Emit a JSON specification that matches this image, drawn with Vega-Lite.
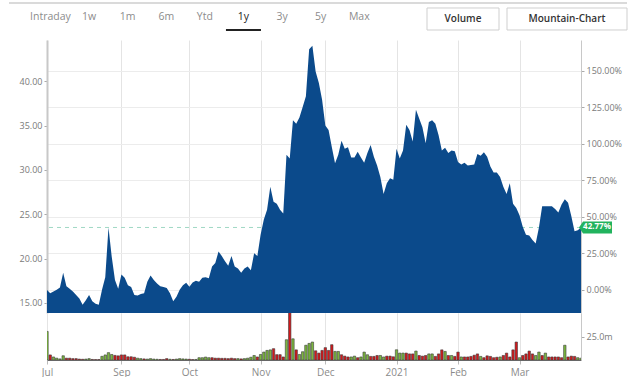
{
  "$schema": "https://vega.github.io/schema/vega-lite/v6.json",
  "padding": {"left": 7, "top": 0, "right": 0, "bottom": 0},
  "spacing": 0,
  "background": "white",
  "config": {
    "view": {"stroke": null},
    "font": "Open Sans",
    "axis": {"labelFont": "Open Sans", "labelColor": "#7a7a7a", "labelFontSize": 9, "tickColor": "#aaaaaa", "tickSize": 3, "labelPadding": 2, "domainColor": "#c8c8c8", "gridColor": "#ececec"}
  },
  "datasets": {
    "tabs": [
      {"label": "Intraday", "kind": "tab"},
      {"label": "1w", "kind": "tab"},
      {"label": "1m", "kind": "tab"},
      {"label": "6m", "kind": "tab"},
      {"label": "Ytd", "kind": "tab"},
      {"label": "1y", "kind": "active"},
      {"label": "3y", "kind": "tab"},
      {"label": "5y", "kind": "tab"},
      {"label": "Max", "kind": "tab"},
      {"label": "Volume", "kind": "button"},
      {"label": "Mountain-Chart", "kind": "button"}
    ],
    "last": [{"pct": 0.4277, "label": "42.77%"}],
    "prices": [
      {"date": "2020-07-30", "close": 16.47, "volume": 31, "dir": "up"},
      {"date": "2020-07-31", "close": 16.10, "volume": 5.5, "dir": "down"},
      {"date": "2020-08-03", "close": 16.30, "volume": 3.3, "dir": "up"},
      {"date": "2020-08-04", "close": 16.50, "volume": 2.0, "dir": "up"},
      {"date": "2020-08-05", "close": 16.75, "volume": 1.2, "dir": "up"},
      {"date": "2020-08-06", "close": 18.40, "volume": 4.6, "dir": "up"},
      {"date": "2020-08-07", "close": 16.90, "volume": 2.0, "dir": "down"},
      {"date": "2020-08-10", "close": 16.60, "volume": 2.0, "dir": "down"},
      {"date": "2020-08-11", "close": 16.30, "volume": 1.5, "dir": "down"},
      {"date": "2020-08-12", "close": 15.90, "volume": 1.5, "dir": "down"},
      {"date": "2020-08-13", "close": 15.50, "volume": 1.0, "dir": "down"},
      {"date": "2020-08-14", "close": 14.80, "volume": 0.8, "dir": "down"},
      {"date": "2020-08-17", "close": 15.30, "volume": 1.0, "dir": "up"},
      {"date": "2020-08-18", "close": 15.90, "volume": 1.5, "dir": "up"},
      {"date": "2020-08-19", "close": 15.20, "volume": 0.6, "dir": "down"},
      {"date": "2020-08-20", "close": 14.90, "volume": 0.5, "dir": "down"},
      {"date": "2020-08-21", "close": 14.80, "volume": 0.5, "dir": "down"},
      {"date": "2020-08-24", "close": 16.50, "volume": 4.0, "dir": "up"},
      {"date": "2020-08-25", "close": 17.90, "volume": 5.5, "dir": "up"},
      {"date": "2020-08-26", "close": 23.50, "volume": 8.0, "dir": "up"},
      {"date": "2020-08-27", "close": 20.20, "volume": 6.0, "dir": "up"},
      {"date": "2020-08-28", "close": 17.60, "volume": 5.0, "dir": "down"},
      {"date": "2020-08-31", "close": 16.60, "volume": 4.5, "dir": "down"},
      {"date": "2020-09-01", "close": 18.20, "volume": 5.5, "dir": "down"},
      {"date": "2020-09-02", "close": 17.85, "volume": 5.5, "dir": "down"},
      {"date": "2020-09-03", "close": 17.00, "volume": 3.5, "dir": "down"},
      {"date": "2020-09-04", "close": 16.80, "volume": 3.5, "dir": "down"},
      {"date": "2020-09-08", "close": 15.90, "volume": 3.0, "dir": "down"},
      {"date": "2020-09-09", "close": 15.85, "volume": 2.0, "dir": "up"},
      {"date": "2020-09-10", "close": 16.00, "volume": 1.5, "dir": "up"},
      {"date": "2020-09-11", "close": 16.10, "volume": 1.2, "dir": "down"},
      {"date": "2020-09-14", "close": 17.40, "volume": 1.0, "dir": "up"},
      {"date": "2020-09-15", "close": 18.10, "volume": 1.5, "dir": "up"},
      {"date": "2020-09-16", "close": 17.60, "volume": 1.0, "dir": "up"},
      {"date": "2020-09-17", "close": 17.20, "volume": 0.8, "dir": "up"},
      {"date": "2020-09-18", "close": 16.90, "volume": 0.6, "dir": "down"},
      {"date": "2020-09-21", "close": 16.80, "volume": 0.6, "dir": "down"},
      {"date": "2020-09-22", "close": 16.70, "volume": 1.5, "dir": "down"},
      {"date": "2020-09-23", "close": 16.10, "volume": 0.8, "dir": "up"},
      {"date": "2020-09-24", "close": 15.20, "volume": 0.6, "dir": "down"},
      {"date": "2020-09-25", "close": 15.70, "volume": 1.0, "dir": "up"},
      {"date": "2020-09-28", "close": 16.50, "volume": 1.5, "dir": "up"},
      {"date": "2020-09-29", "close": 17.00, "volume": 1.2, "dir": "up"},
      {"date": "2020-09-30", "close": 17.29, "volume": 1.0, "dir": "up"},
      {"date": "2020-10-01", "close": 16.84, "volume": 0.8, "dir": "down"},
      {"date": "2020-10-02", "close": 17.30, "volume": 0.5, "dir": "down"},
      {"date": "2020-10-05", "close": 17.50, "volume": 0.6, "dir": "up"},
      {"date": "2020-10-06", "close": 17.40, "volume": 2.5, "dir": "up"},
      {"date": "2020-10-07", "close": 17.85, "volume": 2.5, "dir": "up"},
      {"date": "2020-10-08", "close": 17.90, "volume": 3.2, "dir": "up"},
      {"date": "2020-10-09", "close": 17.80, "volume": 2.5, "dir": "up"},
      {"date": "2020-10-12", "close": 19.10, "volume": 2.5, "dir": "down"},
      {"date": "2020-10-13", "close": 19.50, "volume": 2.0, "dir": "down"},
      {"date": "2020-10-14", "close": 20.80, "volume": 2.0, "dir": "down"},
      {"date": "2020-10-15", "close": 20.30, "volume": 1.8, "dir": "down"},
      {"date": "2020-10-16", "close": 19.70, "volume": 1.8, "dir": "down"},
      {"date": "2020-10-19", "close": 19.20, "volume": 1.5, "dir": "down"},
      {"date": "2020-10-20", "close": 20.30, "volume": 2.0, "dir": "down"},
      {"date": "2020-10-21", "close": 19.10, "volume": 1.5, "dir": "down"},
      {"date": "2020-10-22", "close": 18.90, "volume": 1.5, "dir": "up"},
      {"date": "2020-10-23", "close": 18.40, "volume": 1.2, "dir": "down"},
      {"date": "2020-10-26", "close": 18.90, "volume": 1.5, "dir": "up"},
      {"date": "2020-10-27", "close": 19.10, "volume": 2.0, "dir": "up"},
      {"date": "2020-10-28", "close": 18.70, "volume": 3.0, "dir": "up"},
      {"date": "2020-10-29", "close": 20.60, "volume": 4.9, "dir": "up"},
      {"date": "2020-10-30", "close": 20.30, "volume": 3.3, "dir": "down"},
      {"date": "2020-11-02", "close": 22.70, "volume": 6.0, "dir": "up"},
      {"date": "2020-11-03", "close": 24.40, "volume": 8.6, "dir": "up"},
      {"date": "2020-11-04", "close": 25.50, "volume": 10.4, "dir": "up"},
      {"date": "2020-11-05", "close": 28.10, "volume": 11.0, "dir": "up"},
      {"date": "2020-11-06", "close": 26.40, "volume": 12.3, "dir": "down"},
      {"date": "2020-11-09", "close": 26.20, "volume": 5.8, "dir": "down"},
      {"date": "2020-11-10", "close": 25.50, "volume": 5.8, "dir": "down"},
      {"date": "2020-11-11", "close": 25.10, "volume": 3.3, "dir": "down"},
      {"date": "2020-11-12", "close": 31.70, "volume": 22, "dir": "up"},
      {"date": "2020-11-13", "close": 31.30, "volume": 55, "dir": "down"},
      {"date": "2020-11-16", "close": 35.60, "volume": 23, "dir": "up"},
      {"date": "2020-11-17", "close": 35.20, "volume": 11, "dir": "down"},
      {"date": "2020-11-18", "close": 35.90, "volume": 6, "dir": "up"},
      {"date": "2020-11-19", "close": 37.10, "volume": 9, "dir": "up"},
      {"date": "2020-11-20", "close": 38.30, "volume": 16, "dir": "up"},
      {"date": "2020-11-23", "close": 43.60, "volume": 18, "dir": "up"},
      {"date": "2020-11-24", "close": 44.00, "volume": 19.5, "dir": "up"},
      {"date": "2020-11-25", "close": 41.10, "volume": 10, "dir": "down"},
      {"date": "2020-11-27", "close": 39.80, "volume": 7.5, "dir": "down"},
      {"date": "2020-11-30", "close": 37.90, "volume": 10.4, "dir": "down"},
      {"date": "2020-12-01", "close": 35.00, "volume": 13.4, "dir": "down"},
      {"date": "2020-12-02", "close": 34.50, "volume": 10.4, "dir": "down"},
      {"date": "2020-12-03", "close": 32.60, "volume": 16.6, "dir": "down"},
      {"date": "2020-12-04", "close": 30.75, "volume": 9.3, "dir": "up"},
      {"date": "2020-12-07", "close": 31.70, "volume": 9.3, "dir": "up"},
      {"date": "2020-12-08", "close": 33.30, "volume": 5.7, "dir": "down"},
      {"date": "2020-12-09", "close": 32.40, "volume": 4.2, "dir": "down"},
      {"date": "2020-12-10", "close": 32.55, "volume": 3.3, "dir": "down"},
      {"date": "2020-12-11", "close": 31.40, "volume": 3.3, "dir": "up"},
      {"date": "2020-12-14", "close": 31.40, "volume": 4.2, "dir": "up"},
      {"date": "2020-12-15", "close": 32.06, "volume": 2.5, "dir": "down"},
      {"date": "2020-12-16", "close": 31.40, "volume": 3.3, "dir": "up"},
      {"date": "2020-12-17", "close": 30.80, "volume": 8.6, "dir": "up"},
      {"date": "2020-12-18", "close": 31.90, "volume": 5.7, "dir": "up"},
      {"date": "2020-12-21", "close": 32.80, "volume": 3.9, "dir": "down"},
      {"date": "2020-12-22", "close": 31.50, "volume": 3.9, "dir": "down"},
      {"date": "2020-12-23", "close": 30.50, "volume": 4.9, "dir": "down"},
      {"date": "2020-12-24", "close": 29.20, "volume": 4.9, "dir": "up"},
      {"date": "2020-12-28", "close": 27.30, "volume": 3.3, "dir": "up"},
      {"date": "2020-12-29", "close": 28.50, "volume": 4.2, "dir": "down"},
      {"date": "2020-12-30", "close": 29.06, "volume": 4.2, "dir": "down"},
      {"date": "2020-12-31", "close": 28.90, "volume": 3.5, "dir": "down"},
      {"date": "2021-01-04", "close": 32.40, "volume": 11.1, "dir": "up"},
      {"date": "2021-01-05", "close": 31.30, "volume": 7.5, "dir": "up"},
      {"date": "2021-01-06", "close": 32.20, "volume": 7.5, "dir": "up"},
      {"date": "2021-01-07", "close": 35.10, "volume": 7.5, "dir": "down"},
      {"date": "2021-01-08", "close": 34.50, "volume": 6.6, "dir": "down"},
      {"date": "2021-01-11", "close": 33.20, "volume": 6.6, "dir": "down"},
      {"date": "2021-01-12", "close": 36.80, "volume": 9.7, "dir": "up"},
      {"date": "2021-01-13", "close": 35.80, "volume": 4.9, "dir": "down"},
      {"date": "2021-01-14", "close": 34.80, "volume": 4.2, "dir": "down"},
      {"date": "2021-01-15", "close": 33.00, "volume": 4.9, "dir": "down"},
      {"date": "2021-01-19", "close": 35.40, "volume": 6.6, "dir": "up"},
      {"date": "2021-01-20", "close": 35.60, "volume": 6.6, "dir": "up"},
      {"date": "2021-01-21", "close": 35.20, "volume": 3.9, "dir": "down"},
      {"date": "2021-01-22", "close": 33.90, "volume": 6.6, "dir": "down"},
      {"date": "2021-01-25", "close": 32.20, "volume": 11, "dir": "down"},
      {"date": "2021-01-26", "close": 32.50, "volume": 9.3, "dir": "up"},
      {"date": "2021-01-27", "close": 31.90, "volume": 4.9, "dir": "down"},
      {"date": "2021-01-28", "close": 32.20, "volume": 4.9, "dir": "up"},
      {"date": "2021-01-29", "close": 32.10, "volume": 3.9, "dir": "down"},
      {"date": "2021-02-01", "close": 30.90, "volume": 8.6, "dir": "down"},
      {"date": "2021-02-02", "close": 30.60, "volume": 3.3, "dir": "up"},
      {"date": "2021-02-03", "close": 30.80, "volume": 3.3, "dir": "down"},
      {"date": "2021-02-04", "close": 30.50, "volume": 3.3, "dir": "down"},
      {"date": "2021-02-05", "close": 30.55, "volume": 3.9, "dir": "down"},
      {"date": "2021-02-08", "close": 30.60, "volume": 5.2, "dir": "down"},
      {"date": "2021-02-09", "close": 31.80, "volume": 6.6, "dir": "down"},
      {"date": "2021-02-10", "close": 31.60, "volume": 3.9, "dir": "up"},
      {"date": "2021-02-11", "close": 32.00, "volume": 2.5, "dir": "down"},
      {"date": "2021-02-12", "close": 31.50, "volume": 4.5, "dir": "down"},
      {"date": "2021-02-16", "close": 30.40, "volume": 3.9, "dir": "down"},
      {"date": "2021-02-17", "close": 29.70, "volume": 2.5, "dir": "down"},
      {"date": "2021-02-18", "close": 29.70, "volume": 3.0, "dir": "down"},
      {"date": "2021-02-19", "close": 29.20, "volume": 3.3, "dir": "up"},
      {"date": "2021-02-22", "close": 28.10, "volume": 4.9, "dir": "down"},
      {"date": "2021-02-23", "close": 27.30, "volume": 7.5, "dir": "down"},
      {"date": "2021-02-24", "close": 28.50, "volume": 3.3, "dir": "down"},
      {"date": "2021-02-25", "close": 26.20, "volume": 11, "dir": "down"},
      {"date": "2021-02-26", "close": 25.70, "volume": 19.5, "dir": "down"},
      {"date": "2021-03-01", "close": 24.90, "volume": 2.5, "dir": "up"},
      {"date": "2021-03-02", "close": 23.60, "volume": 4.9, "dir": "down"},
      {"date": "2021-03-03", "close": 22.70, "volume": 6.6, "dir": "down"},
      {"date": "2021-03-04", "close": 22.60, "volume": 9.7, "dir": "down"},
      {"date": "2021-03-05", "close": 22.10, "volume": 6.6, "dir": "down"},
      {"date": "2021-03-08", "close": 21.70, "volume": 4.9, "dir": "up"},
      {"date": "2021-03-09", "close": 23.50, "volume": 8.6, "dir": "up"},
      {"date": "2021-03-10", "close": 25.90, "volume": 4.9, "dir": "down"},
      {"date": "2021-03-11", "close": 25.90, "volume": 7.5, "dir": "up"},
      {"date": "2021-03-12", "close": 25.90, "volume": 3.3, "dir": "down"},
      {"date": "2021-03-15", "close": 25.90, "volume": 3.3, "dir": "down"},
      {"date": "2021-03-16", "close": 25.60, "volume": 3.3, "dir": "down"},
      {"date": "2021-03-17", "close": 25.20, "volume": 3.3, "dir": "down"},
      {"date": "2021-03-18", "close": 26.10, "volume": 2.5, "dir": "down"},
      {"date": "2021-03-19", "close": 26.70, "volume": 16, "dir": "up"},
      {"date": "2021-03-22", "close": 26.30, "volume": 3.3, "dir": "down"},
      {"date": "2021-03-23", "close": 24.80, "volume": 4.2, "dir": "down"},
      {"date": "2021-03-24", "close": 23.10, "volume": 3.9, "dir": "down"},
      {"date": "2021-03-25", "close": 23.20, "volume": 2.5, "dir": "up"},
      {"date": "2021-03-26", "close": 23.51, "volume": 2.0, "dir": "up"}
    ]
  },
  "vconcat": [
    {
      "width": 534,
      "height": 40,
      "data": {"name": "tabs"},
      "layer": [
        {
          "data": {"values": [{}]},
          "mark": {"type": "point", "shape": "M-1,0H1", "size": 381924, "filled": false, "stroke": "#b5b5b5", "strokeWidth": 1, "opacity": 1, "xOffset": 4, "yOffset": -17},
          "encoding": {}
        },
        {
          "transform": [{"filter": "datum.label == 'Volume'"}],
          "mark": {"type": "point", "shape": "M-1,-0.3056H1V0.3056H-1Z", "size": 5184, "filled": false, "stroke": "#cfcfcf", "strokeWidth": 1, "opacity": 1, "yOffset": -1},
          "encoding": {"x": {"field": "label", "type": "nominal", "scale": {"type": "point", "padding": 0, "domain": ["Volume", "Mountain-Chart"], "range": [416, 520]}, "axis": null}}
        },
        {
          "transform": [{"filter": "datum.label == 'Mountain-Chart'"}],
          "mark": {"type": "point", "shape": "M-1,-0.1833H1V0.1833H-1Z", "size": 14400, "filled": false, "stroke": "#cfcfcf", "strokeWidth": 1, "opacity": 1, "yOffset": -1},
          "encoding": {"x": {"field": "label", "type": "nominal", "scale": {"type": "point", "padding": 0, "domain": ["Volume", "Mountain-Chart"], "range": [416, 520]}, "axis": null}}
        },
        {
          "transform": [{"filter": "datum.kind == 'button'"}],
          "mark": {"type": "text", "fontSize": 10, "fontWeight": 600, "color": "#333333", "dy": -1},
          "encoding": {
            "x": {"field": "label", "type": "nominal", "scale": {"type": "point", "padding": 0, "domain": ["Volume", "Mountain-Chart"], "range": [416, 520]}, "axis": null},
            "text": {"field": "label"}
          }
        },
        {
          "transform": [{"filter": "datum.kind != 'button'"}],
          "mark": {"type": "text", "fontSize": 10.5, "dy": -3},
          "encoding": {
            "x": {"field": "label", "type": "nominal", "scale": {"type": "point", "padding": 0, "domain": ["Intraday", "1w", "1m", "6m", "Ytd", "1y", "3y", "5y", "Max"], "range": [3.4, 312.3]}, "axis": null},
            "text": {"field": "label"},
            "color": {"field": "kind", "type": "nominal", "scale": {"domain": ["tab", "active"], "range": ["#8c8c8c", "#222222"]}, "legend": null}
          }
        },
        {
          "transform": [{"filter": "datum.label == '1y'"}],
          "mark": {"type": "point", "shape": "M-1,0H1", "size": 1225, "filled": false, "stroke": "#222222", "strokeWidth": 2, "opacity": 1, "yOffset": 10},
          "encoding": {"x": {"field": "label", "type": "nominal", "scale": {"type": "point", "padding": 0, "domain": ["Intraday", "1w", "1m", "6m", "Ytd", "1y", "3y", "5y", "Max"], "range": [3.4, 312.3]}, "axis": null}}
        }
      ],
      "resolve": {"scale": {"x": "independent", "color": "independent"}}
    },
    {
      "width": 534,
      "height": 273,
      "data": {"name": "prices"},
      "layer": [
        {
          "data": {"name": "last"},
          "mark": {"type": "rule", "strokeDash": [4, 4], "color": "#9fd8c4", "strokeWidth": 1},
          "encoding": {
            "y": {"field": "pct", "type": "quantitative", "scale": {"domain": [-0.1579, 1.711], "nice": false, "zero": false}, "axis": {"orient": "right", "values": [0, 0.25, 0.5, 0.75, 1, 1.25, 1.5], "format": ".2%", "grid": true, "title": null}}
          }
        },
        {
          "mark": {"type": "area", "color": "#0b4a8b", "opacity": 1, "clip": true},
          "encoding": {
            "x": {"field": "date", "type": "ordinal", "scale": {"type": "point", "padding": 0}, "axis": {"values": ["2020-07-30", "2020-09-01", "2020-10-01", "2020-11-02", "2020-12-01", "2021-01-04", "2021-02-01", "2021-03-01"], "labels": false, "ticks": false, "domain": false, "grid": true, "gridColor": "#e4e4e4", "title": null}},
            "y": {"field": "close", "type": "quantitative", "scale": {"domain": [13.87, 44.65], "nice": false, "zero": false}, "axis": {"orient": "left", "values": [15, 20, 25, 30, 35, 40], "format": ".2f", "grid": false, "title": null, "domainWidth": 2}}
          }
        },
        {
          "data": {"name": "last"},
          "mark": {"type": "point", "shape": "M0,0L0.27,-0.4H2.2V0.4H0.27Z", "size": 900, "filled": true, "color": "#22b35e", "opacity": 1, "xOffset": -2},
          "encoding": {
            "x": {"value": "width"},
            "y": {"field": "pct", "type": "quantitative", "scale": {"domain": [-0.1579, 1.711], "nice": false, "zero": false}, "axis": null}
          }
        },
        {
          "data": {"name": "last"},
          "mark": {"type": "text", "color": "white", "fontSize": 8, "fontWeight": "bold", "dx": 16},
          "encoding": {
            "x": {"value": "width"},
            "y": {"field": "pct", "type": "quantitative", "scale": {"domain": [-0.1579, 1.711], "nice": false, "zero": false}, "axis": null},
            "text": {"field": "label"}
          }
        }
      ],
      "resolve": {"scale": {"y": "independent"}}
    },
    {
      "width": 534,
      "height": 47,
      "data": {"name": "prices"},
      "mark": {"type": "bar", "width": 2.4, "stroke": "#3a3a3a", "strokeWidth": 0.6, "clip": true},
      "encoding": {
        "x": {"field": "date", "type": "ordinal", "scale": {"type": "point", "padding": 0}, "axis": {"values": ["2020-07-30", "2020-09-01", "2020-10-01", "2020-11-02", "2020-12-01", "2021-01-04", "2021-02-01", "2021-03-01"], "labelExpr": "utcmonth(toDate(datum.value)) == 0 ? utcFormat(toDate(datum.value), '%Y') : utcFormat(toDate(datum.value), '%b')", "labelAngle": 0, "grid": true, "gridColor": "#e4e4e4", "tickSize": 4, "tickColor": "#bbbbbb", "domainColor": "#666666", "labelFontSize": 10, "labelColor": "#8a8a8a", "labelPadding": 3, "title": null}},
        "y": {"field": "volume", "type": "quantitative", "scale": {"domain": [0, 51], "nice": false}, "axis": {"orient": "right", "values": [25], "labelExpr": "format(datum.value, '.1f') + 'm'", "grid": false, "title": null}},
        "color": {"field": "dir", "type": "nominal", "scale": {"domain": ["up", "down"], "range": ["#7cb83e", "#d3191c"]}, "legend": null}
      }
    }
  ]
}
